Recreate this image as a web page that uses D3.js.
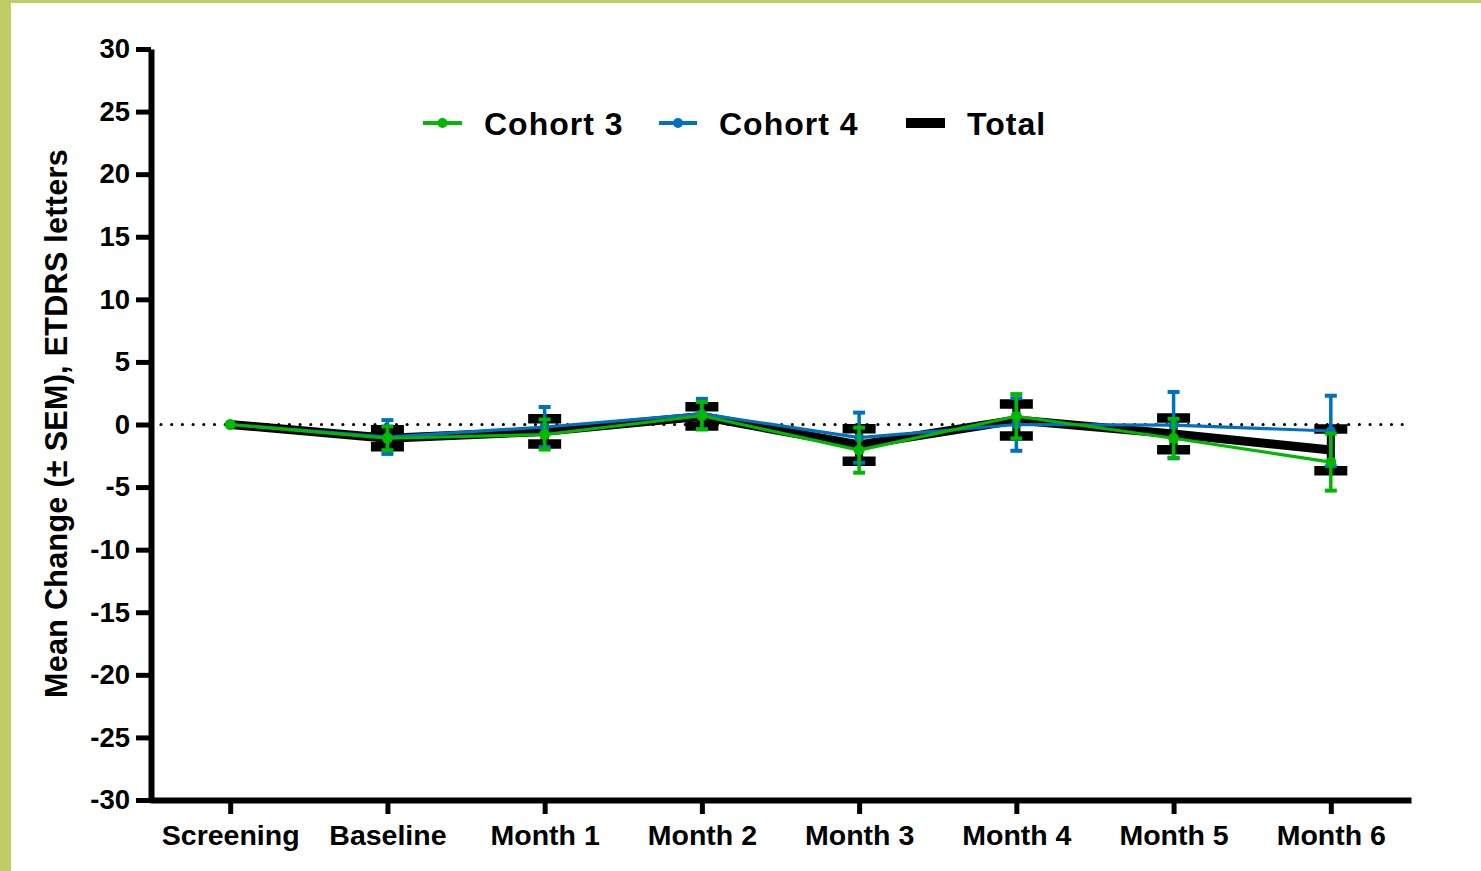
<!DOCTYPE html>
<html>
<head>
<meta charset="utf-8">
<script src="https://cdn.jsdelivr.net/npm/d3@7"></script>
<style>
  html, body { margin: 0; padding: 0; background: #fff; }
  svg { display: block; }
  text { font-family: "Liberation Sans", Arial, Helvetica, sans-serif; font-weight: bold; fill: #000; }
</style>
</head>
<body>
<svg id="chart" width="1481" height="871"></svg>
<script>
const categories = ["Screening", "Baseline", "Month 1", "Month 2", "Month 3", "Month 4", "Month 5", "Month 6"];
const cohort3Mean = [0, -1.1, -0.8, 0.7, -2.05, 0.66, -1.1, -3.0];
const cohort3Sem  = [0, 0.95, 1.2, 1.1, 1.8, 1.77, 1.55, 2.28];
const cohort4Mean = [0, -1.0, -0.2, 0.85, -1.05, 0.0, -0.05, -0.52];
const cohort4Sem  = [0, 1.35, 1.6, 1.2, 2.0, 2.1, 2.65, 2.82];
const totalMean   = [0, -1.1, -0.55, 0.65, -1.64, 0.36, -0.75, -2.03];
const totalSem    = [0, 0.68, 1.0, 0.76, 1.3, 1.28, 1.27, 1.67];
const yTicks = [30, 25, 20, 15, 10, 5, 0, -5, -10, -15, -20, -25, -30];
const seriesNames = ["Cohort 3", "Cohort 4", "Total"];

const svg = d3.select("#chart");

// page border
svg.append("rect").attr("x", 0).attr("y", 0).attr("width", 11).attr("height", 871).attr("fill", "#bfcd63");
svg.append("rect").attr("x", 0).attr("y", 0).attr("width", 1481).attr("height", 3).attr("fill", "#bfcd63");

const x = d3.scalePoint().domain(categories).range([150, 1411]).padding(0.51);
const y = d3.scaleLinear().domain([-30, 30]).range([800, 49]);

// zero reference dotted line
svg.append("line")
  .attr("x1", 161).attr("x2", 1406)
  .attr("y1", y(0)).attr("y2", y(0))
  .attr("stroke", "#000").attr("stroke-width", 3.2)
  .attr("stroke-linecap", "round")
  .attr("stroke-dasharray", "0 10.7");

// axes
const yAxis = svg.append("g")
  .attr("transform", "translate(151,0)")
  .call(d3.axisLeft(y).tickValues(yTicks).tickSize(15).tickSizeOuter(0).tickPadding(6).tickFormat(d => String(d)));
yAxis.select(".domain").attr("stroke", "#000").attr("stroke-width", 6);
yAxis.selectAll(".tick line").attr("stroke", "#000").attr("stroke-width", 5);
yAxis.selectAll(".tick text").attr("font-size", 27.5).attr("font-family", "Liberation Sans, Arial, sans-serif").attr("font-weight", "bold").attr("fill", "#000");

const xAxis = svg.append("g")
  .attr("transform", "translate(0,800)")
  .call(d3.axisBottom(x).tickSize(14).tickSizeOuter(0).tickPadding(11));
xAxis.select(".domain").attr("stroke", "#000").attr("stroke-width", 6);
xAxis.selectAll(".tick line").attr("stroke", "#000").attr("stroke-width", 5);
xAxis.selectAll(".tick text").attr("font-size", 28.5).attr("font-family", "Liberation Sans, Arial, sans-serif").attr("font-weight", "bold").attr("fill", "#000");

// y axis title
svg.append("text")
  .attr("transform", "translate(67," + 423.5 + ") rotate(-90)")
  .attr("text-anchor", "middle")
  .attr("font-size", 30.5)
  .attr("letter-spacing", 0.3)
  .text("Mean Change (\u00B1 SEM), ETDRS letters");

const series = [
  { name: seriesNames[2], mean: totalMean, sem: totalSem, color: "#000000", lw: 9, stem: 8, capW: 33, capH: 9.5, r: 2.5 },
  { name: seriesNames[1], mean: cohort4Mean, sem: cohort4Sem, color: "#0070c0", lw: 3.2, stem: 3.5, capW: 12, capH: 4, r: 5 },
  { name: seriesNames[0], mean: cohort3Mean, sem: cohort3Sem, color: "#00b800", lw: 3.2, stem: 3.5, capW: 12, capH: 4, r: 5.5 }
];

series.forEach(s => {
  const pts = categories.map((c, i) => ({ c, m: s.mean[i], e: s.sem[i] }));
  const g = svg.append("g");
  const line = d3.line().x(d => x(d.c)).y(d => y(d.m));
  g.append("path").datum(pts).attr("d", line)
    .attr("fill", "none").attr("stroke", s.color).attr("stroke-width", s.lw).attr("stroke-linejoin", "round");
  const eb = pts.filter(d => d.e > 0);
  g.selectAll(".stem").data(eb).join("line")
    .attr("x1", d => x(d.c)).attr("x2", d => x(d.c))
    .attr("y1", d => y(d.m + d.e)).attr("y2", d => y(d.m - d.e))
    .attr("stroke", s.color).attr("stroke-width", s.stem);
  ["+", "-"].forEach(sign => {
    g.selectAll(".cap" + (sign === "+" ? "t" : "b")).data(eb).join("line")
      .attr("x1", d => x(d.c) - s.capW / 2).attr("x2", d => x(d.c) + s.capW / 2)
      .attr("y1", d => y(sign === "+" ? d.m + d.e : d.m - d.e))
      .attr("y2", d => y(sign === "+" ? d.m + d.e : d.m - d.e))
      .attr("stroke", s.color).attr("stroke-width", s.capH);
  });
  g.selectAll("circle").data(pts).join("circle")
    .attr("cx", d => x(d.c)).attr("cy", d => y(d.m)).attr("r", s.r).attr("fill", s.color);
});

// legend
const legend = [
  { name: seriesNames[0], color: "#00b800", x0: 423, x1: 462, tx: 484, lw: 4, r: 5 },
  { name: seriesNames[1], color: "#0070c0", x0: 659, x1: 697, tx: 719, lw: 4, r: 5 },
  { name: seriesNames[2], color: "#000000", x0: 906, x1: 945, tx: 967, lw: 10, r: 0 }
];
legend.forEach(l => {
  svg.append("line").attr("x1", l.x0).attr("x2", l.x1).attr("y1", 123).attr("y2", 123)
    .attr("stroke", l.color).attr("stroke-width", l.lw);
  if (l.r > 0) svg.append("circle").attr("cx", (l.x0 + l.x1) / 2).attr("cy", 123).attr("r", l.r).attr("fill", l.color);
  svg.append("text").attr("x", l.tx).attr("y", 135).attr("font-size", 32).attr("letter-spacing", 1).text(l.name);
});
</script>
</body>
</html>
